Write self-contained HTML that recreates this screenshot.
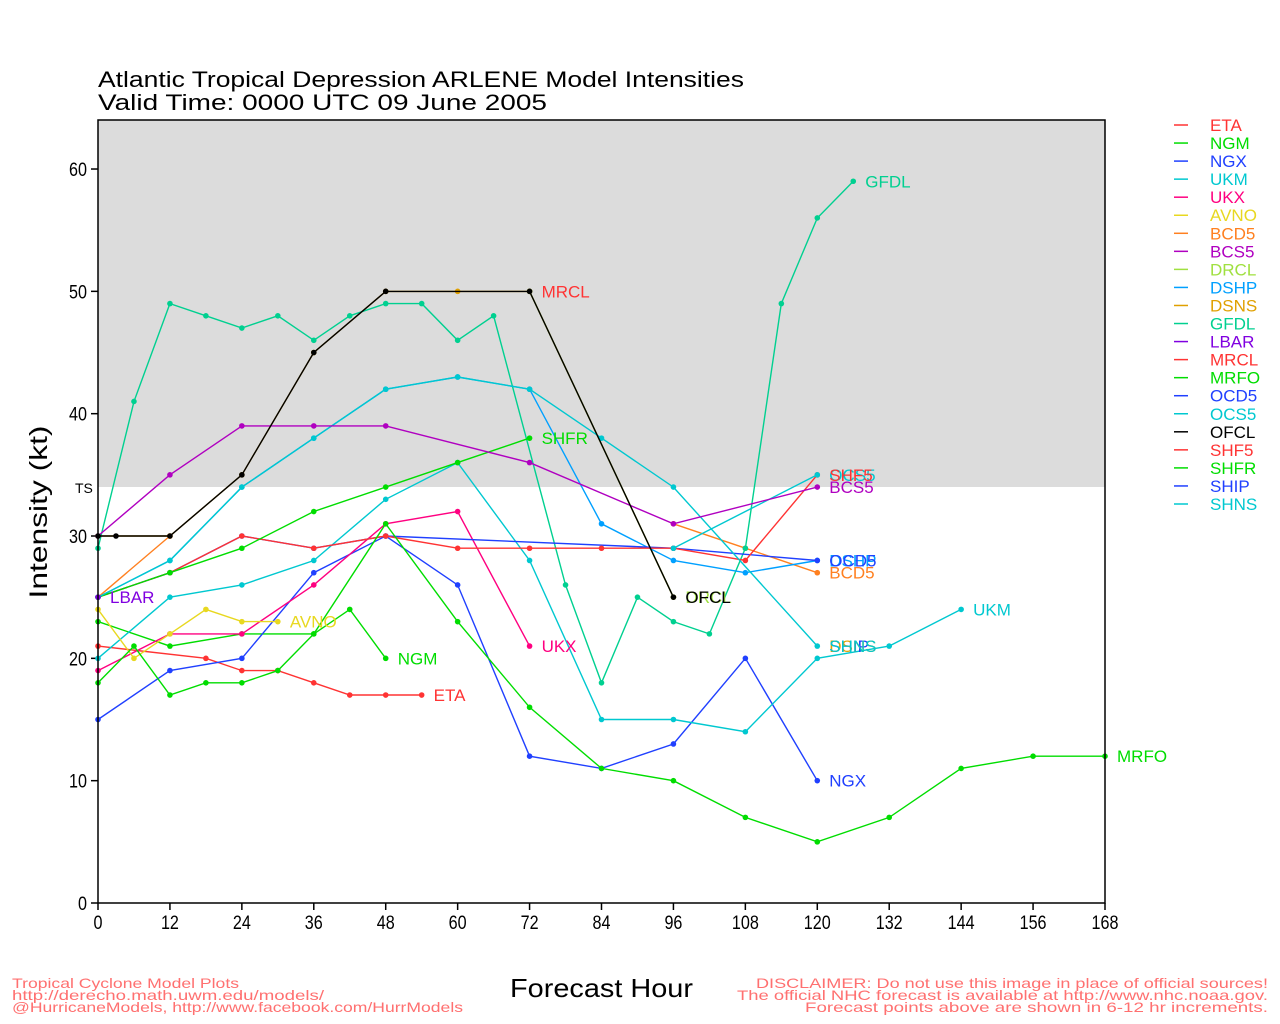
<!DOCTYPE html>
<html><head><meta charset="utf-8"><style>
html,body{margin:0;padding:0;background:#fff;}
svg{display:block;font-family:"Liberation Sans",sans-serif;}
</style></head><body>
<svg id="s" width="1280" height="1024" xmlns="http://www.w3.org/2000/svg">
<rect x="0" y="0" width="1280" height="1024" fill="#fff"/>
<rect x="98" y="120" width="1007" height="367" fill="#dcdcdc"/>
<text x="98" y="87" font-size="22" fill="#000" textLength="646" lengthAdjust="spacingAndGlyphs">Atlantic Tropical Depression ARLENE Model Intensities</text>
<text x="98" y="110" font-size="22" fill="#000" textLength="449" lengthAdjust="spacingAndGlyphs">Valid Time: 0000 UTC 09 June 2005</text>
<text x="47" y="512" font-size="25" fill="#000" text-anchor="middle" transform="rotate(-90 47 512)" textLength="173" lengthAdjust="spacingAndGlyphs">Intensity (kt)</text>
<text x="510" y="997" font-size="26" fill="#000" textLength="183" lengthAdjust="spacingAndGlyphs">Forecast Hour</text>
<text x="75" y="493" font-size="14" fill="#000">TS</text>
<g font-size="14" fill="#ff7070">
<text x="12" y="988" textLength="227" lengthAdjust="spacingAndGlyphs">Tropical Cyclone Model Plots</text>
<text x="12" y="1000" textLength="312" lengthAdjust="spacingAndGlyphs">http://derecho.math.uwm.edu/models/</text>
<text x="12" y="1012" textLength="451" lengthAdjust="spacingAndGlyphs">@HurricaneModels, http://www.facebook.com/HurrModels</text>
<text x="756" y="988" textLength="512" lengthAdjust="spacingAndGlyphs">DISCLAIMER: Do not use this image in place of official sources!</text>
<text x="737" y="1000" textLength="531" lengthAdjust="spacingAndGlyphs">The official NHC forecast is available at http://www.nhc.noaa.gov.</text>
<text x="805" y="1012" textLength="463" lengthAdjust="spacingAndGlyphs">Forecast points above are shown in 6-12 hr increments.</text>
</g>
<g id="axes"></g>
<g id="data"></g>
<rect x="98" y="120" width="1007" height="783" fill="none" stroke="#000" stroke-width="1.5"/>
<g id="leg"></g>
</svg>
<script>
var NS="http://www.w3.org/2000/svg";
function X(h){return 98+h*1007/168;}
function Y(v){return 903-v*12.233;}
function el(p,t,a,txt){var e=document.createElementNS(NS,t);for(var k in a)e.setAttribute(k,a[k]);if(txt!==undefined)e.textContent=txt;document.getElementById(p).appendChild(e);return e;}
for(var h=0;h<=168;h+=12){el("axes","line",{x1:X(h),y1:903,x2:X(h),y2:910,stroke:"#000","stroke-width":1.5});el("axes","text",{x:X(h),y:929,"font-size":19,"text-anchor":"middle",fill:"#000",transform:"translate("+X(h)+",0) scale(0.85,1) translate("+(-X(h))+",0)"},""+h);}
for(var v=0;v<=60;v+=10){el("axes","line",{x1:91,y1:Y(v),x2:98,y2:Y(v),stroke:"#000","stroke-width":1.5});el("axes","text",{x:87,y:Y(v)+7,"font-size":19,"text-anchor":"end",fill:"#000",transform:"translate(87,0) scale(0.85,1) translate(-87,0)"},""+v);}
var S=[
["ETA","#ff3333",[[0,21],[18,20],[24,19],[30,19],[36,18],[42,17],[48,17],[54,17]],1],
["NGM","#00dd00",[[0,23],[12,21],[24,22],[36,22],[42,24],[48,20]],1],
["NGX","#2040ff",[[0,15],[12,19],[24,20],[36,27],[48,30],[60,26],[72,12],[84,11],[96,13],[108,20],[120,10]],1],
["UKM","#00c8d0",[[0,20],[12,25],[24,26],[36,28],[48,33],[60,36],[72,28],[84,15],[96,15],[108,14],[120,20],[132,21],[144,24]],1],
["UKX","#ff0080",[[0,19],[12,22],[24,22],[36,26],[48,31],[60,32],[72,21]],1],
["AVNO","#e8d820",[[0,24],[6,20],[12,22],[18,24],[24,23],[30,23]],1],
["BCD5","#ff8020",[[0,25],[12,30]],1],
["BCD5b","#ff8020",[[96,31],[108,29],[120,27]],1],
["DSNS","#e0a000",[[0,30],[12,30],[24,35],[36,45],[48,50],[60,50],[72,50],[96,25]],1],
["DRCL","#a0e040",[[72,50],[96,25]],0],
["GFDL","#00d090",[[0,29],[6,41],[12,49],[18,48],[24,47],[30,48],[36,46],[42,48],[48,49],[54,49],[60,46],[66,48],[78,26],[84,18],[90,25],[96,23],[102,22],[108,29],[114,49],[120,56],[126,59]],1],
["DSHP","#00a0ff",[[0,25],[12,28],[24,34],[36,38],[48,42],[60,43],[72,42],[84,31],[96,28],[108,27],[120,28]],1],
["OCD5","#2040ff",[[0,25],[12,27],[24,30],[36,29],[48,30],[96,29],[120,28]],1],
["SHF5","#ff3333",[[0,25],[12,27],[24,30],[36,29],[48,30],[60,29],[72,29],[84,29],[96,29],[108,28],[120,35]],1],
["OCS5","#00c8d0",[[96,29],[120,35]],0],
["SHFR","#00dd00",[[0,25],[12,27],[24,29],[36,32],[48,34],[60,36],[72,38]],1],
["SHNS","#00c8d0",[[0,25],[12,28],[24,34],[36,38],[48,42],[60,43],[72,42],[84,38],[96,34],[120,21]],1],
["BCS5","#b000c0",[[0,30],[12,35],[24,39],[36,39],[48,39],[72,36],[96,31],[120,34]],1],
["MRFO","#00dd00",[[0,18],[6,21],[12,17],[18,18],[24,18],[30,19],[36,22],[48,31],[60,23],[72,16],[84,11],[96,10],[108,7],[120,5],[132,7],[144,11],[156,12],[168,12]],1],
["OFCL","#000000",[[0,30],[3,30],[12,30],[24,35],[36,45],[48,50],[72,50],[96,25]],1],
["LBAR","#8000e0",[[0,25]],1]
];
var labels=[["ETA","#ff3333",54,17],["NGM","#00dd00",48,20],["NGX","#2040ff",120,10],["UKM","#00c8d0",144,24],["UKX","#ff0080",72,21],["AVNO","#e8d820",30,23],["GFDL","#00d090",126,59],["MRCL","#ff3333",72,50],["SHFR","#00dd00",72,38],["MRFO","#00dd00",168,12],["LBAR","#8000e0",0,25],["OCS5","#00c8d0",120,35],["SHF5","#ff3333",120,35],["BCS5","#b000c0",120,34],["BCD5","#ff8020",120,27],["DSHP","#00a0ff",120,28],["OCD5","#2040ff",120,28],["SHIP","#2040ff",120,21],["DSNS","#e0a000",120,21],["SHNS","#00c8d0",120,21],["DRCL","#a0e040",96,25],["OFCL","#000000",96,25]];
S.forEach(function(s){var pts=s[2].map(function(p){return X(p[0]).toFixed(1)+","+Y(p[1]).toFixed(1);}).join(" ");
if(s[2].length>1)el("data","polyline",{points:pts,fill:"none",stroke:s[1],"stroke-width":1.4});
s[2].forEach(function(p){el("data","circle",{cx:X(p[0]),cy:Y(p[1]),r:2.8,fill:s[1]});});});
labels.forEach(function(l){el("data","text",{x:X(l[2])+12,y:Y(l[3])+6,"font-size":17,fill:l[1]},l[0]);});
var L=[["ETA","#ff3333"],["NGM","#00dd00"],["NGX","#2040ff"],["UKM","#00c8d0"],["UKX","#ff0080"],["AVNO","#e8d820"],["BCD5","#ff8020"],["BCS5","#b000c0"],["DRCL","#a0e040"],["DSHP","#00a0ff"],["DSNS","#e0a000"],["GFDL","#00d090"],["LBAR","#8000e0"],["MRCL","#ff3333"],["MRFO","#00dd00"],["OCD5","#2040ff"],["OCS5","#00c8d0"],["OFCL","#000000"],["SHF5","#ff3333"],["SHFR","#00dd00"],["SHIP","#2040ff"],["SHNS","#00c8d0"]];
var step=(504-125)/21;
L.forEach(function(l,i){var y=125+i*step;el("leg","line",{x1:1174,y1:y,x2:1188,y2:y,stroke:l[1],"stroke-width":1.5});el("leg","text",{x:1210,y:y+6,"font-size":17,fill:l[1]},l[0]);});
</script>
</body></html>
